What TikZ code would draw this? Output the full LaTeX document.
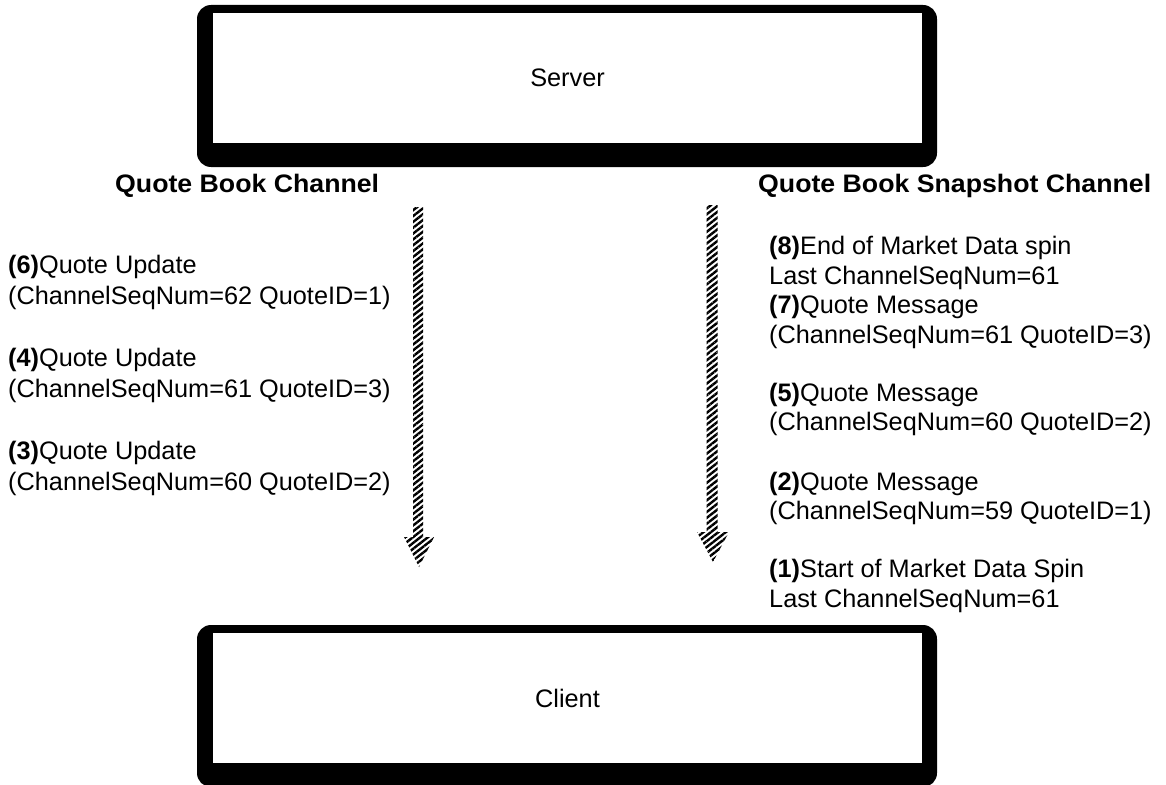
\documentclass[tikz,border=0pt]{standalone}
\usepackage{fontspec}
\setmainfont{Liberation Sans}
\newfontfamily\hdrfont[FakeStretch=1.055]{Liberation Sans}
\usetikzlibrary{patterns.meta,calc}
\begin{document}
\begin{tikzpicture}[x=1pt,y=-1pt,
  txt/.style={anchor=base west, inner sep=0pt, font=\fontsize{25.3}{29}\selectfont},
  hdr/.style={anchor=base west, inner sep=0pt, font=\hdrfont\bfseries\fontsize{25.3}{29}\selectfont},
  frame/.style={fill=black, rounded corners=14pt, minimum width=740pt, minimum height=162pt, inner sep=0pt},
  panel/.style={fill=white, minimum width=709pt, minimum height=130pt, inner sep=0pt, font=\fontsize{25.3}{29}\selectfont},
  hatch/.style={pattern={Lines[angle=38,distance=4.6pt,line width=2.4pt]}}]
\useasboundingbox (0,0) rectangle (1166,784);
\clip (0,0) rectangle (1166,784);

% boxes
\node[frame] (serverframe) at (567,86) {};
\node[panel] (server) at (567.5,78) {Server};
\node[frame] (clientframe) at (567,706) {};
\node[panel] (client) at (567.5,698) {Client};

% hatched arrows
\coordinate (qbtop) at (418,207);
\coordinate (qbtip) at (419,567);
\fill[hatch] ($(qbtop)+(-5,0)$) -- ($(qbtop)+(5,0)$) -- ($(qbtip)+(4,-30)$) -- ($(qbtip)+(15,-30)$)
  -- (qbtip) -- ($(qbtip)+(-15,-30)$) -- ($(qbtip)+(-6,-30)$) -- cycle;
\coordinate (sntop) at (712,205);
\coordinate (sntip) at (713,562);
\fill[hatch] ($(sntop)+(-5.5,0)$) -- ($(sntop)+(5.5,0)$) -- ($(sntip)+(4.5,-30)$) -- ($(sntip)+(16,-30)$)
  -- (sntip) -- ($(sntip)+(-16,-30)$) -- ($(sntip)+(-6.5,-30)$) -- cycle;

% headers
\node[hdr] (qbhdr) at (115,192) {Quote Book Channel};
\node[hdr] (snhdr) at (758,192) {Quote Book Snapshot Channel};

% left messages
\node[txt] (l6a) at (8,273) {\textbf{(6)}Quote Update};
\node[txt] (l6b) at (8,304) {(ChannelSeqNum=62 QuoteID=1)};
\node[txt] (l4a) at (8,366) {\textbf{(4)}Quote Update};
\node[txt] (l4b) at (8,397) {(ChannelSeqNum=61 QuoteID=3)};
\node[txt] (l3a) at (8,459) {\textbf{(3)}Quote Update};
\node[txt] (l3b) at (8,490) {(ChannelSeqNum=60 QuoteID=2)};

% right messages
\node[txt] (r8a) at (769,254) {\textbf{(8)}End of Market Data spin};
\node[txt] (r8b) at (769,284) {Last ChannelSeqNum=61};
\node[txt] (r7a) at (769,313) {\textbf{(7)}Quote Message};
\node[txt] (r7b) at (769,343) {(ChannelSeqNum=61 QuoteID=3)};
\node[txt] (r5a) at (769,401) {\textbf{(5)}Quote Message};
\node[txt] (r5b) at (769,430) {(ChannelSeqNum=60 QuoteID=2)};
\node[txt] (r2a) at (769,490) {\textbf{(2)}Quote Message};
\node[txt] (r2b) at (769,519) {(ChannelSeqNum=59 QuoteID=1)};
\node[txt] (r1a) at (769,577) {\textbf{(1)}Start of Market Data Spin};
\node[txt] (r1b) at (769,607) {Last ChannelSeqNum=61};
\end{tikzpicture}
\end{document}
